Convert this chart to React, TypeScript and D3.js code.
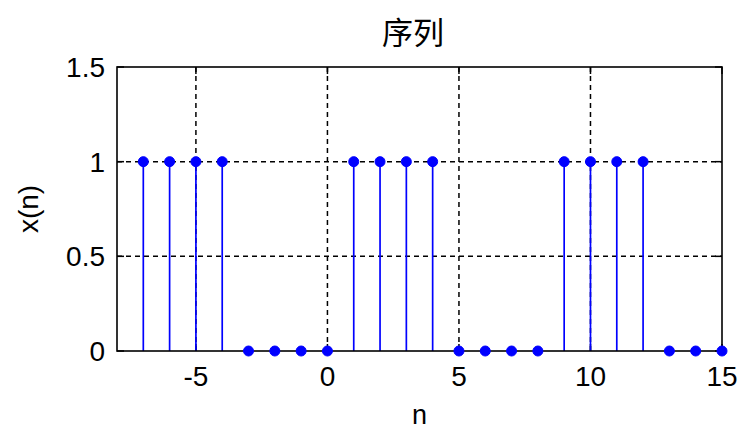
import React from "react";
import * as d3 from "d3";

// Sample indices and sequence values
const nValues: number[] = [-7, -6, -5, -4, -3, -2, -1, 0, 1, 2, 3, 4, 5, 6, 7, 8, 9, 10, 11, 12, 13, 14, 15];
const xValues: number[] = [1, 1, 1, 1, 0, 0, 0, 0, 1, 1, 1, 1, 0, 0, 0, 0, 1, 1, 1, 1, 0, 0, 0];

const xTicks: number[] = [-5, 0, 5, 10, 15];
const yTicks: number[] = [0, 0.5, 1, 1.5];
const xDomain: [number, number] = [-8, 15];
const yDomain: [number, number] = [0, 1.5];

const titleText = "序列";
const xLabel = "n";
const yLabel = "x(n)";

const W = 738;
const H = 432;
const margin = { left: 117, right: 16, top: 67, bottom: 81 };

export default function App() {
  const x = d3.scaleLinear().domain(xDomain).range([margin.left, W - margin.right]);
  const y = d3.scaleLinear().domain(yDomain).range([H - margin.bottom, margin.top]);
  const x0 = x.range()[0];
  const x1 = x.range()[1];
  const y0 = y.range()[0];
  const y1 = y.range()[1];
  const font = "'Liberation Sans', Arial, sans-serif";
  const blue = "#0000ff";
  const tickLen = 7;

  return (
    <svg
      width={W}
      height={H}
      style={{ position: "absolute", left: 0, top: 0, background: "#fff" }}
      xmlns="http://www.w3.org/2000/svg"
    >
      <rect x={0} y={0} width={W} height={H} fill="#fff" />
      {/* grid */}
      {xTicks
        .filter((t) => t > xDomain[0] && t < xDomain[1])
        .map((t) => (
          <line key={"gx" + t} x1={x(t)} x2={x(t)} y1={y0} y2={y1} stroke="#000" strokeWidth={1.5} strokeDasharray="5,4" />
        ))}
      {yTicks
        .filter((t) => t > yDomain[0] && t < yDomain[1])
        .map((t) => (
          <line key={"gy" + t} x1={x0} x2={x1} y1={y(t)} y2={y(t)} stroke="#000" strokeWidth={1.5} strokeDasharray="5,4" />
        ))}
      {/* inward ticks */}
      {xTicks.map((t) => (
        <g key={"tx" + t}>
          <line x1={x(t)} x2={x(t)} y1={y0} y2={y0 - tickLen} stroke="#000" strokeWidth={1.5} />
          <line x1={x(t)} x2={x(t)} y1={y1} y2={y1 + tickLen} stroke="#000" strokeWidth={1.5} />
        </g>
      ))}
      {yTicks.map((t) => (
        <g key={"ty" + t}>
          <line x1={x0} x2={x0 + tickLen} y1={y(t)} y2={y(t)} stroke="#000" strokeWidth={1.5} />
          <line x1={x1} x2={x1 - tickLen} y1={y(t)} y2={y(t)} stroke="#000" strokeWidth={1.5} />
        </g>
      ))}
      {/* stems */}
      {nValues.map((n, i) => (
        <line key={"s" + n} x1={x(n)} x2={x(n)} y1={y(0)} y2={y(xValues[i])} stroke={blue} strokeWidth={1.7} />
      ))}
      {/* frame */}
      <rect x={x0} y={y1} width={x1 - x0} height={y0 - y1} fill="none" stroke="#000" strokeWidth={1.6} />
      {/* markers */}
      {nValues.map((n, i) => (
        <circle key={"m" + n} cx={x(n)} cy={y(xValues[i])} r={5} fill={blue} stroke={blue} strokeWidth={1} />
      ))}
      {/* tick labels */}
      {xTicks.map((t) => (
        <text key={"lx" + t} x={x(t)} y={386} textAnchor="middle" fontFamily={font} fontSize={28} fill="#000">
          {t < 0 ? "-" + Math.abs(t) : String(t)}
        </text>
      ))}
      {yTicks.map((t) => (
        <text key={"ly" + t} x={x0 - 12} y={y(t) + 10} textAnchor="end" fontFamily={font} fontSize={28} fill="#000">
          {String(t)}
        </text>
      ))}
      {/* labels */}
      <text x={(x0 + x1) / 2} y={424} textAnchor="middle" fontFamily={font} fontSize={27} fill="#000">
        {xLabel}
      </text>
      <text
        transform={`translate(38, ${(y0 + y1) / 2}) rotate(-90)`}
        textAnchor="middle"
        fontFamily={font}
        fontSize={28}
        fill="#000"
      >
        {yLabel}
      </text>
      <text x={413} y={44} textAnchor="middle" fontFamily="'Noto Sans CJK SC', sans-serif" fontSize={31} fill="#000">
        {titleText}
      </text>
    </svg>
  );
}
